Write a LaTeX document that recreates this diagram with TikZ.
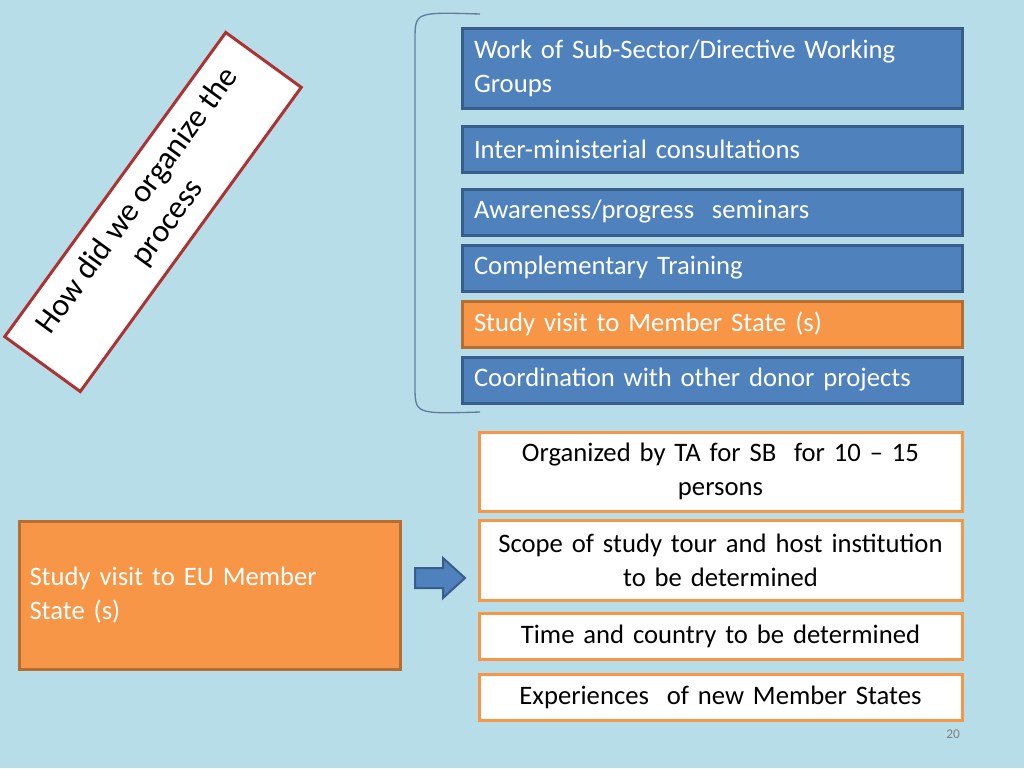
\documentclass[tikz,border=0pt]{standalone}
\usepackage{fontspec}
\setmainfont{Carlito}
\begin{document}
\begin{tikzpicture}[x=0.75pt,y=-0.75pt,
  bluebox/.style={draw=bbord, fill=bfill, line width=2.25pt, minimum width=375pt, text width=357pt, align=left, text=white, font=\fontsize{20}{25.5}\selectfont, inner sep=0pt},
  orbox/.style={bluebox, fill=ofill, draw=obord},
  whbox/.style={draw=ofill, fill=white, line width=2.25pt, minimum width=362.25pt, text width=350pt, align=center, text=black, font=\fontsize{20}{25.5}\selectfont, inner sep=0pt}]
\definecolor{bg}{HTML}{B7DDE8}
\definecolor{bfill}{HTML}{4F81BD}
\definecolor{bbord}{HTML}{385D8A}
\definecolor{ofill}{HTML}{F79646}
\definecolor{obord}{HTML}{B66D31}
\fill[bg] (0,0) rectangle (1024,768);
\useasboundingbox (0,0) rectangle (1024,768);
% rotated title
\node[draw=red!60!black!80, fill=white, line width=2.25pt, minimum width=282pt, minimum height=70pt, rotate=54, align=center, font=\fontsize{24}{28}\selectfont, inner sep=0pt] (title) at (153,212) {How did we organize the\\process};
% bracket
\draw[bbord!80, line width=1pt] (480,14) .. controls (415,12) .. (415,40) -- (415,386) .. controls (415,414) .. (480,412);
\node[bluebox, minimum height=60pt] (b1) at (712,68) {Work of Sub-Sector/Directive Working Groups};
\node[bluebox, minimum height=34.5pt] (b2) at (712,149) {Inter-ministerial consultations};
\node[bluebox, minimum height=34.5pt] (b3) at (712,212) {Awareness/progress\ \ seminars};
\node[bluebox, minimum height=34.5pt] (b4) at (712,268) {Complementary Training};
\node[orbox, minimum height=34.5pt] (b5) at (712,324) {Study visit to Member State (s)};
\node[bluebox, minimum height=34.5pt] (b6) at (712,380) {Coordination with other donor projects};
\node[whbox, minimum height=59.25pt] (w1) at (720.5,471.5) {Organized by TA for SB\ \ for 10 -- 15\\persons};
\node[whbox, minimum height=60pt] (w2) at (720.5,560) {Scope of study tour and host institution\\to be determined};
\node[whbox, minimum height=34.5pt] (w3) at (720.5,636) {Time and country to be determined};
\node[whbox, minimum height=34.5pt] (w4) at (720.5,697) {Experiences\ \ of new Member States};
\node[orbox, minimum width=285.75pt, text width=270pt, minimum height=111pt] (left) at (209.5,595) {Study visit to EU Member\\State (s)};
\draw[fill=bfill, draw=bbord, line width=1.5pt] (415,568) -- (443,568) -- (443,558) -- (465,578) -- (443,598) -- (443,588) -- (415,588) -- cycle;
\node[text=gray, font=\fontsize{10}{12}\selectfont\rmfamily] (pg) at (953,734) {20};
\end{tikzpicture}
\end{document}
